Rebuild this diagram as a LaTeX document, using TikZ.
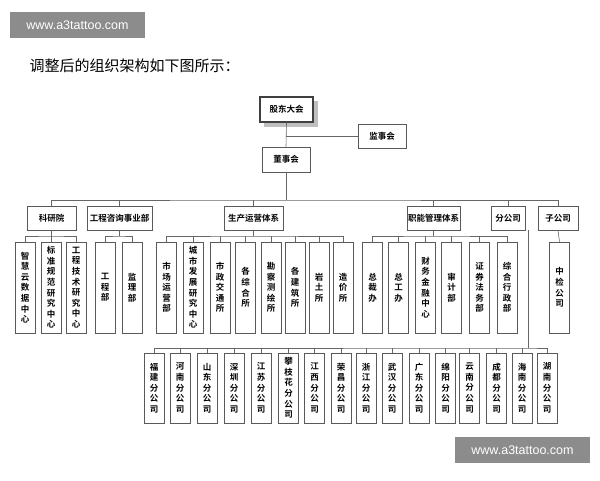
\documentclass[tikz,border=0pt]{standalone}
\usepackage{fontspec}
\newfontfamily\cjk{Noto Sans CJK SC}
\newfontfamily\cjkb{Noto Sans CJK SC Bold}
\newfontfamily\wmfont{Liberation Sans}
\begin{document}
\begin{tikzpicture}[x=1pt,y=-1pt,
  box/.style={draw=black!65,fill=white,line width=0.7pt,inner sep=0pt,font=\cjkb\fontsize{8.5}{9}\selectfont},
  vbox/.style={box,minimum width=20pt,minimum height=91pt,align=center,font=\cjkb\fontsize{8.5}{10.6}\selectfont},
  fbox/.style={box,minimum width=20pt,minimum height=70pt,align=center,font=\cjkb\fontsize{8.5}{10.6}\selectfont},
  ln/.style={draw=black!60,line width=0.6pt},
  wm/.style={fill=black!45,text=white,font=\wmfont\fontsize{12.5}{14}\selectfont,inner sep=0pt,minimum width=135pt,minimum height=26pt}]
\useasboundingbox (0,0) rectangle (600,480);
\fill[white] (0,0) rectangle (600,480);
\node[wm] (w1) at (77.5,25) {www.a3tattoo.com};
\node[wm] (w2) at (522.5,450) {www.a3tattoo.com};
\node[anchor=west,font=\cjk\fontsize{15}{17}\selectfont] (title) at (26,66) {调整后的组织架构如下图所示：};
% top
\fill[black!25] (264,101) rectangle (318,127);
\node[box,draw=black!75,line width=1.4pt,minimum width=53pt,minimum height=25pt] (gd) at (286.5,109.5) {股东大会};
\node[box,minimum width=48pt,minimum height=24pt] (js) at (382,136) {监事会};
\node[box,minimum width=48pt,minimum height=25pt] (ds) at (286,159.5) {董事会};
\draw[ln] (gd.south) -- (ds.north);
\coordinate (jm) at (286,136);
\draw[ln] (jm) -- (js.west);
% level 2
\node[box,minimum width=49pt,minimum height=24pt] (ky) at (51.5,218) {科研院};
\node[box,minimum width=65pt,minimum height=24pt] (gc) at (119.5,218) {工程咨询事业部};
\node[box,minimum width=59pt,minimum height=24pt] (sc) at (253.5,218) {生产运营体系};
\node[box,minimum width=53pt,minimum height=24pt] (zn) at (433.5,218) {职能管理体系};
\node[box,minimum width=34pt,minimum height=24pt] (fg) at (508,218) {分公司};
\node[box,minimum width=40pt,minimum height=24pt] (zg) at (558,218) {子公司};
\draw[ln] (ds.south) -- (286,200);
\draw[ln] (ky.north) |- (286,200) -| (zg.north);
\foreach \n in {gc,sc,zn,fg}{\draw[ln] (\n.north) -- (\n.north |- 0,200);}
% level 3
\node[vbox] (a1) at (25,287.5) {智\\慧\\云\\数\\据\\中\\心};
\node[vbox] (a2) at (51,287.5) {标\\准\\规\\范\\研\\究\\中\\心};
\node[vbox] (a3) at (76,287.5) {工\\程\\技\\术\\研\\究\\中\\心};
\node[vbox] (b1) at (105,287.5) {工\\程\\部};
\node[vbox] (b2) at (132,287.5) {监\\理\\部};
\node[vbox] (c1) at (166.5,287.5) {市\\场\\运\\营\\部};
\node[vbox] (c2) at (193,287.5) {城\\市\\发\\展\\研\\究\\中\\心};
\node[vbox] (c3) at (220,287.5) {市\\政\\交\\通\\所};
\node[vbox] (c4) at (245.5,287.5) {各\\综\\合\\所};
\node[vbox] (c5) at (271,287.5) {勘\\察\\测\\绘\\所};
\node[vbox] (c6) at (295,287.5) {各\\建\\筑\\所};
\node[vbox] (c7) at (319,287.5) {岩\\土\\所};
\node[vbox] (c8) at (343,287.5) {造\\价\\所};
\node[vbox] (d1) at (372.5,287.5) {总\\裁\\办};
\node[vbox] (d2) at (398.5,287.5) {总\\工\\办};
\node[vbox] (d3) at (425.5,287.5) {财\\务\\金\\融\\中\\心};
\node[vbox] (d4) at (451.5,287.5) {审\\计\\部};
\node[vbox] (d5) at (479.5,287.5) {证\\券\\法\\务\\部};
\node[vbox] (d6) at (507,287.5) {综\\合\\行\\政\\部};
\node[vbox] (e1) at (559.5,287.5) {中\\检\\公\\司};
\draw[ln] (ky.south) -- (51.5,236);
\draw[ln] (a1.north) |- (51.5,236) -| (a3.north);
\draw[ln] (a2.north) -- (a2.north |- 0,236);
\draw[ln] (gc.south) -- (119.5,236);
\draw[ln] (b1.north) |- (119.5,236) -| (b2.north);
\draw[ln] (sc.south) -- (253.5,236);
\draw[ln] (c1.north) |- (253.5,236) -| (c8.north);
\foreach \n in {c2,c3,c4,c5,c6,c7}{\draw[ln] (\n.north) -- (\n.north |- 0,236);}
\draw[ln] (zn.south) -- (433.5,236);
\draw[ln] (d1.north) |- (433.5,236) -| (d6.north);
\foreach \n in {d2,d3,d4,d5}{\draw[ln] (\n.north) -- (\n.north |- 0,236);}
\draw[ln] (zg.south) -- (e1.north);
% level 4
\node[fbox] (f1) at (154,388) {福\\建\\分\\公\\司};
\node[fbox] (f2) at (180,388) {河\\南\\分\\公\\司};
\node[fbox] (f3) at (207,388) {山\\东\\分\\公\\司};
\node[fbox] (f4) at (234,388) {深\\圳\\分\\公\\司};
\node[fbox] (f5) at (261,388) {江\\苏\\分\\公\\司};
\node[fbox] (f6) at (288.5,388) {攀\\枝\\花\\分\\公\\司};
\node[fbox] (f7) at (314.5,388) {江\\西\\分\\公\\司};
\node[fbox] (f8) at (341,388) {荣\\昌\\分\\公\\司};
\node[fbox] (f9) at (366,388) {浙\\江\\分\\公\\司};
\node[fbox] (f10) at (392,388) {武\\汉\\分\\公\\司};
\node[fbox] (f11) at (419,388) {广\\东\\分\\公\\司};
\node[fbox] (f12) at (445.5,388) {绵\\阳\\分\\公\\司};
\node[fbox] (f13) at (469.5,388) {云\\南\\分\\公\\司};
\node[fbox] (f14) at (496.5,388) {成\\都\\分\\公\\司};
\node[fbox] (f15) at (522,388) {海\\南\\分\\公\\司};
\node[fbox] (f16) at (547,388) {湖\\南\\分\\公\\司};
\draw[ln,line width=1pt] (fg.south -| 528,0) -- (528,348);
\draw[ln] (f1.north) |- (528,348) -| (f16.north);
\foreach \i in {2,...,15}{\draw[ln] (f\i.north) -- (f\i.north |- 0,348);}
\end{tikzpicture}
\end{document}
